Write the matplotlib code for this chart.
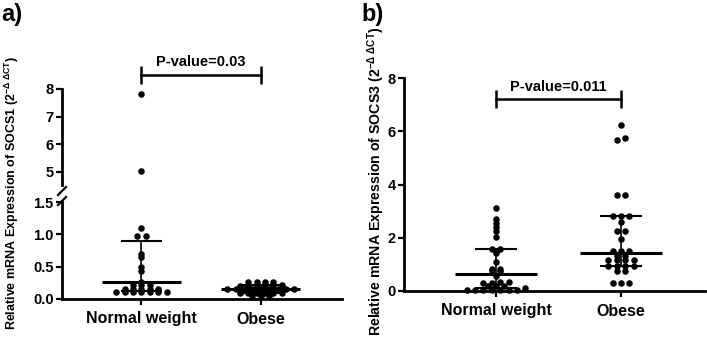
import numpy as np
import matplotlib
matplotlib.use("Agg")
import matplotlib.pyplot as plt
from matplotlib.lines import Line2D

plt.rcParams['font.family'] = ['Liberation Sans', 'DejaVu Sans']
plt.rcParams['font.weight'] = 'bold'
plt.rcParams['mathtext.fontset'] = 'custom'
plt.rcParams['mathtext.rm'] = 'Liberation Sans'
plt.rcParams['mathtext.it'] = 'Liberation Sans:italic'
plt.rcParams['mathtext.bf'] = 'Liberation Sans:bold'

groups = ["Normal weight", "Obese"]

# SOCS1 (panel a) relative expression
socs1_normal = [7.83, 5.05, 1.10, 0.97, 0.97, 0.70, 0.65, 0.50, 0.44, 0.26,
                0.21, 0.21, 0.21, 0.155, 0.155, 0.155, 0.155, 0.155,
                0.105, 0.105, 0.105, 0.105, 0.105, 0.105, 0.105]
socs1_obese = [0.27, 0.27, 0.26, 0.26,
               0.21, 0.21, 0.21, 0.20, 0.20, 0.20,
               0.155, 0.155, 0.155, 0.155, 0.155, 0.155, 0.155, 0.155, 0.155,
               0.10, 0.10, 0.10, 0.09, 0.09, 0.09,
               0.05, 0.05, 0.05]
socs1_median = [0.26, 0.155]
socs1_q1 = [0.13, 0.10]
socs1_q3 = [0.90, 0.21]

# SOCS3 (panel b)
socs3_normal = [3.12, 2.70, 2.57, 2.42, 2.27, 2.02, 1.58, 1.58, 1.42, 1.10,
                0.84, 0.84, 0.74, 0.74, 0.58, 0.35, 0.35, 0.29, 0.29,
                0.18, 0.18, 0.18, 0.12,
                0.03, 0.03, 0.03, 0.03, 0.03, 0.03, 0.03]
socs3_obese = [6.25, 5.76, 5.68, 3.60, 3.60, 2.82, 2.82, 2.82, 2.60,
               2.27, 2.27, 1.94, 1.49, 1.49, 1.49, 1.33, 1.33,
               1.17, 1.17, 1.17, 1.17, 0.95, 0.95, 0.95, 0.95,
               0.76, 0.74, 0.29, 0.29, 0.29]
socs3_median = [0.64, 1.44]
socs3_q1 = [0.12, 0.95]
socs3_q3 = [1.58, 2.82]

pvalue_a = "P-value=0.03"
pvalue_b = "P-value=0.011"


def swarm(values, ypix, px_per_x, d=8.4, h=2.5):
    # GraphPad-like rows: points close in y share a row, spread symmetrically
    values = np.asarray(values)
    order = np.argsort(values, kind="stable")
    rows, row, start = [], [], None
    for i in order:
        if start is None or ypix[i] - start > h:
            if row:
                rows.append(row)
            row, start = [i], ypix[i]
        else:
            row.append(i)
    rows.append(row)
    offs = np.zeros(len(values))
    for row in rows:
        n = len(row)
        for k, i in enumerate(row):
            offs[i] = (k - (n - 1) / 2) * d / px_per_x
    return offs


def ypix_of(ax, vals):
    vals = np.asarray(vals, dtype=float)
    return ax.transData.transform(np.c_[np.zeros_like(vals), vals])[:, 1]


def x_scale(ax):
    p = ax.transData.transform([(0, 0), (1, 0)])
    return p[1, 0] - p[0, 0]


def summary(ax, x, med, q1, q3):
    ax.hlines(med, x - 0.33, x + 0.33, color="black", lw=2.2, zorder=3)
    ax.hlines([q1, q3], x - 0.17, x + 0.17, color="black", lw=1.5, zorder=3)
    ax.vlines(x, q1, q3, color="black", lw=1.2, zorder=3)


def style(ax):
    for s in ["top", "right"]:
        ax.spines[s].set_visible(False)
    for s in ["left", "bottom"]:
        ax.spines[s].set_linewidth(2.0)
    ax.tick_params(direction="out", length=4, width=1.6, labelsize=10.5, pad=2)


W, H = 707, 342
fig = plt.figure(figsize=(W / 100, H / 100), dpi=100)

# ---------- panel a (broken axis) ----------
lo = fig.add_axes([62 / W, 1 - 299 / H, 280 / W, 97 / H])
up = fig.add_axes([62 / W, 1 - 185 / H, 280 / W, 96 / H])
for ax in (lo, up):
    style(ax)
    ax.set_xlim(-0.665, 1.68)
lo.set_ylim(0, 1.5)
lo.set_yticks([0, 0.5, 1.0, 1.5])
lo.set_yticklabels(["0.0", "0.5", "1.0", "1.5"])
up.set_ylim(4.53, 8)
up.set_yticks([5, 6, 7, 8])
up.spines["bottom"].set_visible(False)
up.set_xticks([])
lo.set_xticks([0, 1])
lo.set_xticklabels(groups, fontsize=11.5)
lo.tick_params(axis="x", pad=5)

for gi, vals in enumerate([socs1_normal, socs1_obese]):
    v = np.asarray(vals)
    yp = np.where(v > 1.5, ypix_of(up, v), ypix_of(lo, v))
    x = gi + swarm(v, yp, x_scale(lo))
    m = v > 1.5
    up.scatter(x[m], v[m], s=22, color="black", zorder=4, linewidths=0)
    lo.scatter(x[~m], v[~m], s=22, color="black", zorder=4, linewidths=0, clip_on=False)
    summary(lo, gi, socs1_median[gi], socs1_q1[gi], socs1_q3[gi])

# p-value bracket above upper part
yb = 8.5
up.plot([0, 1], [yb, yb], color="black", lw=1.8, clip_on=False)
up.vlines([0, 1], yb - 0.32, yb + 0.32, color="black", lw=1.8, clip_on=False)
up.text(0.5, yb + 0.47, pvalue_a, ha="center", va="center", fontsize=10.5,
        fontweight="bold", clip_on=False)

# break marks (slashes across the y spine)
inv = fig.transFigure.inverted()
bx, by = up.transAxes.transform((0, 0))
pts = inv.transform([(bx - 4, by - 10), (bx + 4, by - 2)])
fig.add_artist(Line2D(pts[:, 0], pts[:, 1], color="black", lw=1.6))
bx, by = lo.transAxes.transform((0, 1))
pts = inv.transform([(bx - 4, by - 3), (bx + 4, by + 5)])
fig.add_artist(Line2D(pts[:, 0], pts[:, 1], color="black", lw=1.6))

fig.text(12 / W, 1 - 193 / H,
         r"Relative mRNA Expression of SOCS1 (2$^{\mathrm{-\Delta\ \Delta CT}}$)",
         rotation=90, ha="center", va="center", fontsize=9.0, fontweight="bold")
fig.text(1 / W, 1 - 3 / H, "a)", ha="left", va="top", fontsize=17, fontweight="bold")

# ---------- panel b ----------
ax = fig.add_axes([404 / W, 1 - 291 / H, 301 / W, 213 / H])
style(ax)
ax.set_xlim(-0.736, 1.672)
ax.set_ylim(0, 8)
ax.set_yticks([0, 2, 4, 6, 8])
ax.set_xticks([0, 1])
ax.set_xticklabels(groups, fontsize=11.5)
ax.tick_params(axis="x", pad=5)

for gi, vals in enumerate([socs3_normal, socs3_obese]):
    v = np.asarray(vals)
    x = gi + swarm(v, ypix_of(ax, v), x_scale(ax))
    ax.scatter(x, v, s=22, color="black", zorder=4, linewidths=0, clip_on=False)
    summary(ax, gi, socs3_median[gi], socs3_q1[gi], socs3_q3[gi])

yb = 7.22
ax.plot([0, 1], [yb, yb], color="black", lw=1.8, clip_on=False)
ax.vlines([0, 1], yb - 0.34, yb + 0.34, color="black", lw=1.8, clip_on=False)
ax.text(0.5, yb + 0.44, pvalue_b, ha="center", va="center", fontsize=10.5,
        fontweight="bold", clip_on=False)

fig.text(376 / W, 1 - 181 / H,
         r"Relative mRNA Expression of SOCS3 (2$^{\mathrm{-\Delta\ \Delta CT}}$)",
         rotation=90, ha="center", va="center", fontsize=10.2, fontweight="bold")
fig.text(361 / W, 1 - 3 / H, "b)", ha="left", va="top", fontsize=17, fontweight="bold")

fig.savefig("out.png", dpi=100)
